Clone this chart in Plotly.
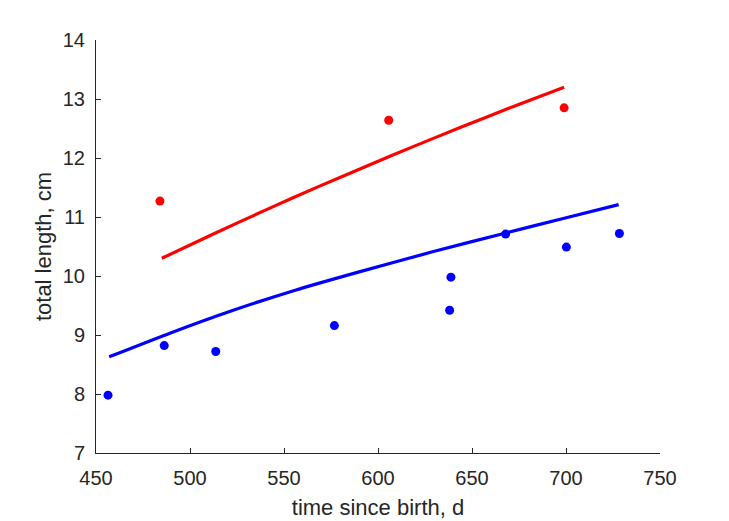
import plotly.graph_objects as go

# observed data
blue_t = [456.4, 486.3, 513.7, 576.8, 638.1, 638.8, 667.9, 700.2, 728.4]
blue_L = [7.98, 8.82, 8.72, 9.16, 9.42, 9.98, 10.71, 10.49, 10.72]
red_t = [484.0, 605.7, 699.0]
red_L = [11.27, 12.64, 12.85]

# fitted curves
blue_fit_t = [457, 490, 523, 556, 590, 629, 668, 698, 728]
blue_fit_L = [8.63, 9.04, 9.42, 9.76, 10.07, 10.41, 10.73, 10.97, 11.21]
red_fit_t = [485, 513, 541, 568, 596, 620, 644, 671, 699]
red_fit_L = [10.30, 10.72, 11.13, 11.51, 11.89, 12.21, 12.52, 12.86, 13.20]

FONT = "Liberation Sans, Arial, sans-serif"
AX = "#262626"

fig = go.Figure()
fig.add_trace(go.Scatter(x=red_fit_t, y=red_fit_L, mode="lines",
                         line=dict(color="#ff0000", width=3.2, shape="spline", smoothing=0.6),
                         showlegend=False))
fig.add_trace(go.Scatter(x=blue_fit_t, y=blue_fit_L, mode="lines",
                         line=dict(color="#0000ff", width=3.2, shape="spline", smoothing=0.6),
                         showlegend=False))
fig.add_trace(go.Scatter(x=red_t, y=red_L, mode="markers",
                         marker=dict(color="#ff0000", size=9), showlegend=False))
fig.add_trace(go.Scatter(x=blue_t, y=blue_L, mode="markers",
                         marker=dict(color="#0000ff", size=9), showlegend=False))

axis_common = dict(showline=True, linecolor=AX, linewidth=1, ticks="inside",
                   ticklen=5, tickcolor=AX, tickwidth=1, showgrid=False,
                   zeroline=False, mirror=False, automargin=False,
                   tickfont=dict(family=FONT, size=20, color=AX))

fig.update_xaxes(range=[450, 750], tickvals=[450, 500, 550, 600, 650, 700, 750],
                 ticklabelstandoff=7,
                 title=dict(text="time since birth, d",
                            font=dict(family=FONT, size=22, color=AX), standoff=11),
                 **axis_common)
fig.update_yaxes(range=[7, 14], tickvals=[7, 8, 9, 10, 11, 12, 13, 14],
                 ticklabelstandoff=6,
                 title=dict(text="total length, cm",
                            font=dict(family=FONT, size=22, color=AX), standoff=5),
                 **axis_common)

fig.update_layout(width=729, height=521, plot_bgcolor="white", paper_bgcolor="white",
                  margin=dict(l=96, r=69, t=40, b=68))

fig.write_html("out.html")
